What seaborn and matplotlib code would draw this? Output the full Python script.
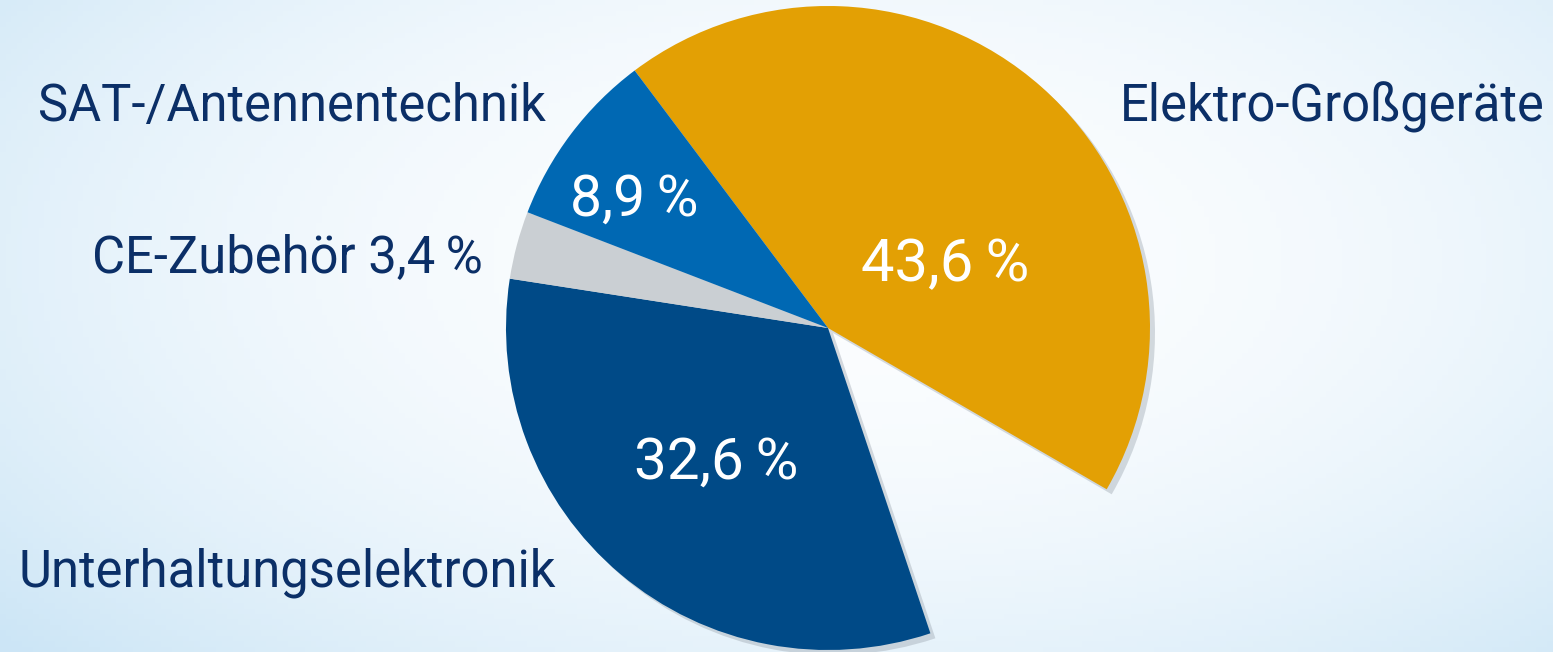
import numpy as np
import matplotlib
matplotlib.use("Agg")
import matplotlib.pyplot as plt
import seaborn as sns
from matplotlib import font_manager

sns.set_theme(style="white")

# ---- data ----
categories = ["Elektro-Großgeräte", "Sonstige", "Unterhaltungselektronik", "CE-Zubehör", "SAT-/Antennentechnik"]
values = [43.6, 11.5, 32.6, 3.4, 8.9]
slice_colors = ["#E3A004", "none", "#004A87", "#CACFD3", "#0068B3"]
value_labels = ["43,6\u2009%", "", "32,6\u2009%", "3,4\u2009%", "8,9\u2009%"]

names = {f.name for f in font_manager.fontManager.ttflist}
fam = [f for f in ["Liberation Sans Narrow", "Roboto", "DejaVu Sans"] if f in names]
plt.rcParams["font.family"] = fam

W, H = 1553, 652
fig = plt.figure(figsize=(W / 100, H / 100), dpi=100)
ax = fig.add_axes([0, 0, 1, 1])
ax.set_xlim(0, W)
ax.set_ylim(0, H)
ax.set_aspect("equal")
ax.axis("off")

# background gradient
yy, xx = np.mgrid[0:1:120j, 0:1:280j]
c_white = np.array([0.988, 0.994, 0.999])
c_blue = np.array([0.80, 0.90, 0.965])
d = np.clip(((xx - 0.55) ** 2 * 1.2 + (yy - 0.40) ** 2 * 0.8) ** 0.5 / 0.8, 0, 1) ** 2.0
img = c_white[None, None, :] * (1 - d[..., None]) + c_blue[None, None, :] * d[..., None]
ax.imshow(img, extent=[0, W, 0, H], origin="upper", aspect="auto", zorder=0)

cx, cy, r = 828, H - 328, 322
start = 126.9

# shadow
sh, _ = ax.pie(values, center=(cx + 5, cy - 5), radius=r, startangle=start, counterclock=False,
               colors=["#9AA4AE"] * len(values), wedgeprops=dict(linewidth=0, alpha=0.4))
for w in sh:
    w.set_zorder(1)
sh[1].set_visible(False)

wedges, _ = ax.pie(values, center=(cx, cy), radius=r, startangle=start, counterclock=False,
                   colors=[c if c != "none" else "white" for c in slice_colors],
                   wedgeprops=dict(linewidth=0))
for w in wedges:
    w.set_zorder(2)
wedges[1].set_visible(False)
ax.set_xlim(0, W)
ax.set_ylim(0, H)
ax.set_aspect("equal")

navy = "#0B2F67"
fs = 36.5
# outer labels
ax.text(1545, H - 107, categories[0], ha="right", va="center", fontsize=fs, color=navy, zorder=5)
ax.text(546, H - 107, categories[4], ha="right", va="center", fontsize=fs, color=navy, zorder=5)
ax.text(483, H - 258, categories[3] + " " + value_labels[3], ha="right", va="center", fontsize=fs, color=navy, zorder=5)
ax.text(18, H - 573, categories[2], ha="left", va="center", fontsize=fs, color=navy, zorder=5)

# inner labels
ax.text(945, H - 265, value_labels[0], ha="center", va="center", fontsize=43, color="white", zorder=5)
ax.text(716, H - 463, value_labels[2], ha="center", va="center", fontsize=42, color="white", zorder=5)
ax.text(634, H - 200, value_labels[4], ha="center", va="center", fontsize=41, color="white", zorder=5)

fig.savefig("out.png", dpi=100)
